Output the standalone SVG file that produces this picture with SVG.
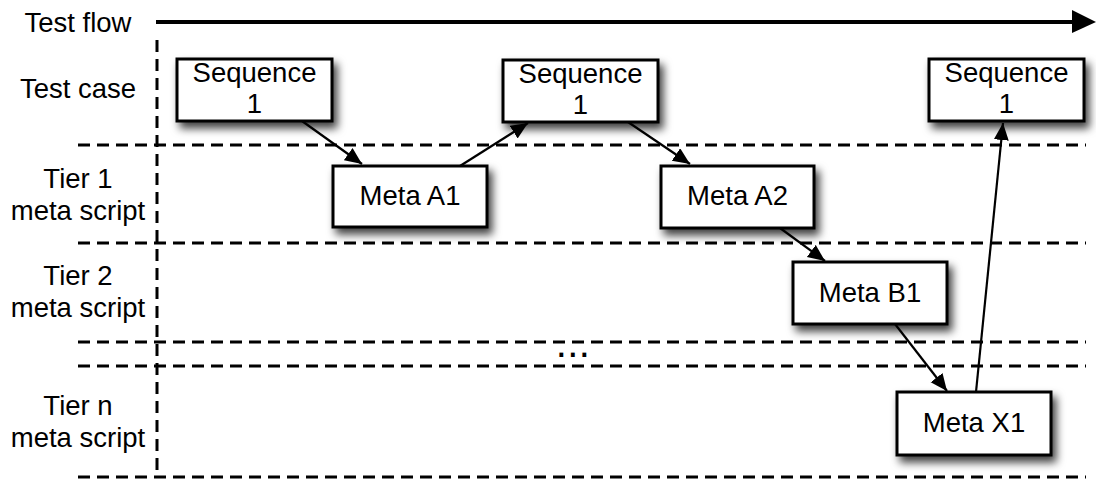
<svg xmlns="http://www.w3.org/2000/svg" width="1096" height="483" viewBox="0 0 1096 483">
<style>
text{font-family:"Liberation Sans",Arial,sans-serif;font-size:27.5px;fill:#000;text-anchor:middle}
.dash{stroke:#000;stroke-width:3;stroke-dasharray:12 7;fill:none}
.box{fill:#fff;stroke:#000;stroke-width:3}
.conn{stroke:#000;stroke-width:2.2;fill:none;marker-end:url(#ah)}
</style>
<defs>
<filter id="sh" x="-20%" y="-30%" width="150%" height="180%">
<feDropShadow dx="4" dy="6" stdDeviation="4" flood-color="#000" flood-opacity="0.75"/>
</filter>
<marker id="ah" markerUnits="userSpaceOnUse" markerWidth="18" markerHeight="16" refX="17" refY="7.5" orient="auto">
<path d="M0,0 L17,7.5 L0,15 z" fill="#000"/>
</marker>
</defs>
<g id="grid">
<line class="dash" x1="78" y1="145" x2="1086" y2="145"/>
<line class="dash" x1="78" y1="243" x2="1086" y2="243"/>
<line class="dash" x1="78" y1="342" x2="1086" y2="342"/>
<line class="dash" x1="78" y1="366" x2="1086" y2="366"/>
<line class="dash" x1="78" y1="477" x2="1086" y2="477"/>
<line class="dash" x1="157" y1="40" x2="157" y2="478"/>
</g>
<g id="testflow">
<line x1="156" y1="22" x2="1074" y2="22" stroke="#000" stroke-width="4"/>
<path d="M1072,10 L1096,22 L1072,33 z" fill="#000"/>
<text x="78" y="32">Test flow</text>
</g>
<g id="labels">
<text x="78" y="98">Test case</text>
<text x="78" y="188">Tier 1</text>
<text x="78" y="220">meta script</text>
<text x="78" y="285">Tier 2</text>
<text x="78" y="317">meta script</text>
<text x="78" y="415">Tier n</text>
<text x="78" y="447">meta script</text>
<text x="573" y="357" style="font-size:40px;letter-spacing:0.4px">...</text>
</g>
<g id="connectors">
<line class="conn" x1="302" y1="121" x2="362" y2="164"/>
<line class="conn" x1="460" y1="166" x2="528" y2="123"/>
<line class="conn" x1="628" y1="122" x2="690" y2="164"/>
<line class="conn" x1="780" y1="228" x2="825" y2="261"/>
<line class="conn" x1="895" y1="324" x2="947" y2="391"/>
<line class="conn" x1="976" y1="392" x2="1003" y2="123"/>
</g>
<g id="seq1">
<rect class="box" x="177" y="59" width="155" height="62" filter="url(#sh)"/>
<text x="254.5" y="82">Sequence</text>
<text x="254.5" y="113">1</text>
</g>
<g id="seq2">
<rect class="box" x="503" y="60" width="155" height="62" filter="url(#sh)"/>
<text x="580.5" y="83">Sequence</text>
<text x="580.5" y="114">1</text>
</g>
<g id="seq3">
<rect class="box" x="929" y="59" width="155" height="62" filter="url(#sh)"/>
<text x="1006.5" y="82">Sequence</text>
<text x="1006.5" y="113">1</text>
</g>
<g id="metaA1">
<rect class="box" x="333" y="166" width="154" height="61" filter="url(#sh)"/>
<text x="410" y="205">Meta A1</text>
</g>
<g id="metaA2">
<rect class="box" x="661" y="166" width="153" height="62" filter="url(#sh)"/>
<text x="737.5" y="205">Meta A2</text>
</g>
<g id="metaB1">
<rect class="box" x="793" y="262" width="154" height="62" filter="url(#sh)"/>
<text x="870" y="302">Meta B1</text>
</g>
<g id="metaX1">
<rect class="box" x="897" y="392" width="154" height="63" filter="url(#sh)"/>
<text x="974" y="432">Meta X1</text>
</g>
</svg>
